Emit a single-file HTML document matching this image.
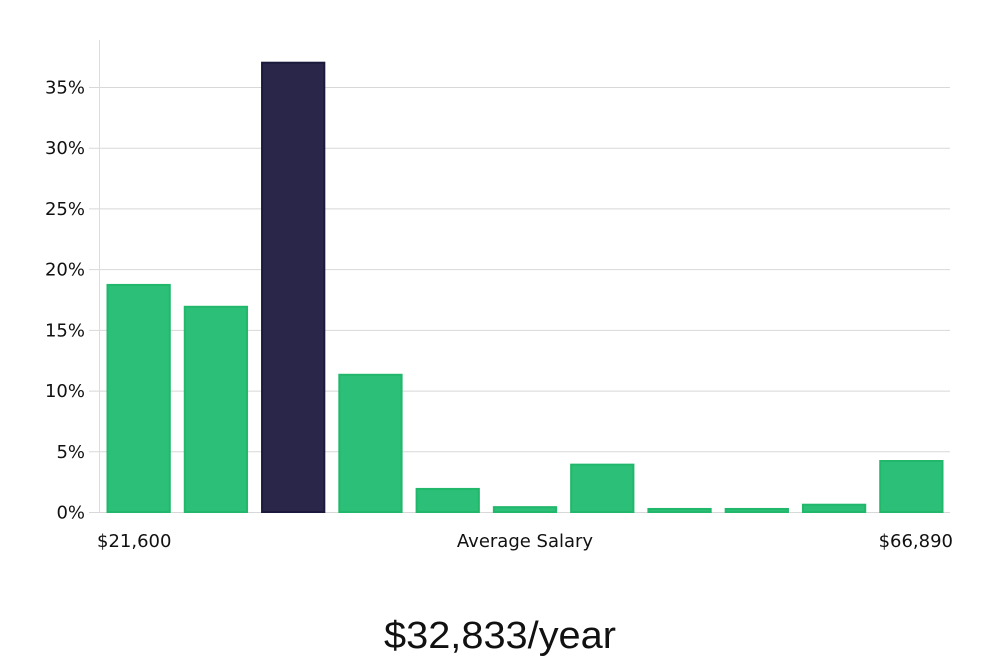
<!DOCTYPE html>
<html><head><meta charset="utf-8"><style>
body{margin:0;background:#fff;font-family:"DejaVu Sans","Liberation Sans",sans-serif;}
</style></head><body>
<svg id="chart" width="1000" height="660" xmlns="http://www.w3.org/2000/svg" font-family="DejaVu Sans, Liberation Sans, sans-serif">
<g id="grid"></g>
<g id="yticks"></g>
<g id="bars"></g>
<line x1="99.5" y1="40" x2="99.5" y2="512" stroke="#ddd"/>
<text x="97" y="547" font-size="18" fill="#111">$21,600</text>
<text x="525" y="547" font-size="18" fill="#111" text-anchor="middle">Average Salary</text>
<text x="953" y="547" font-size="18" fill="#111" text-anchor="end">$66,890</text>
<text x="500" y="648" font-size="38" fill="#111" text-anchor="middle" font-family="Liberation Sans, sans-serif" textLength="232" lengthAdjust="spacingAndGlyphs">$32,833/year</text>
</svg>
<script>
const categories = ["b1","b2","b3","b4","b5","b6","b7","b8","b9","b10","b11"];
const values = [18.7,16.9,37.0,11.3,1.9,0.4,3.9,0.25,0.25,0.6,4.2];
const highlightIndex = 2;
const tickValues = [0,5,10,15,20,25,30,35];
const tickLabels = ["0%","5%","10%","15%","20%","25%","30%","35%"];
const NS="http://www.w3.org/2000/svg";
const x0=100,x1=950,yBase=512,pxPer=12.143;
const band=(x1-x0)/categories.length;
const yScale=v=>yBase-v*pxPer;
const xScale=i=>x0+i*band;
const grid=document.getElementById('grid'),yt=document.getElementById('yticks'),bars=document.getElementById('bars');
tickValues.forEach((t,i)=>{
  const y=yScale(t);
  const l=document.createElementNS(NS,'line');
  
  
  l.setAttribute('x1',89);l.setAttribute('x2',x1);l.setAttribute('y1',y+0.5);l.setAttribute('y2',y+0.5);
  l.setAttribute('stroke','#d8d8d8');grid.appendChild(l);
  const tx=document.createElementNS(NS,'text');
  
  
  tx.setAttribute('x',85);tx.setAttribute('y',y+6.5);tx.setAttribute('text-anchor','end');
  tx.setAttribute('font-size','18');tx.setAttribute('fill','#111');tx.textContent=tickLabels[i];yt.appendChild(tx);
});
values.forEach((v,i)=>{
  const r=document.createElementNS(NS,'rect');
  
  
  const hl=i===highlightIndex;
  r.setAttribute('x',xScale(i)+7.5);r.setAttribute('width',band-15);
  r.setAttribute('y',yScale(v));r.setAttribute('height',yBase-yScale(v));
  r.setAttribute('fill',hl?'#29264a':'#2bbf77');
  r.setAttribute('stroke',hl?'#1c1a3c':'#22b86c');r.setAttribute('stroke-width','2');
  bars.appendChild(r);
});
</script>
</body></html>
